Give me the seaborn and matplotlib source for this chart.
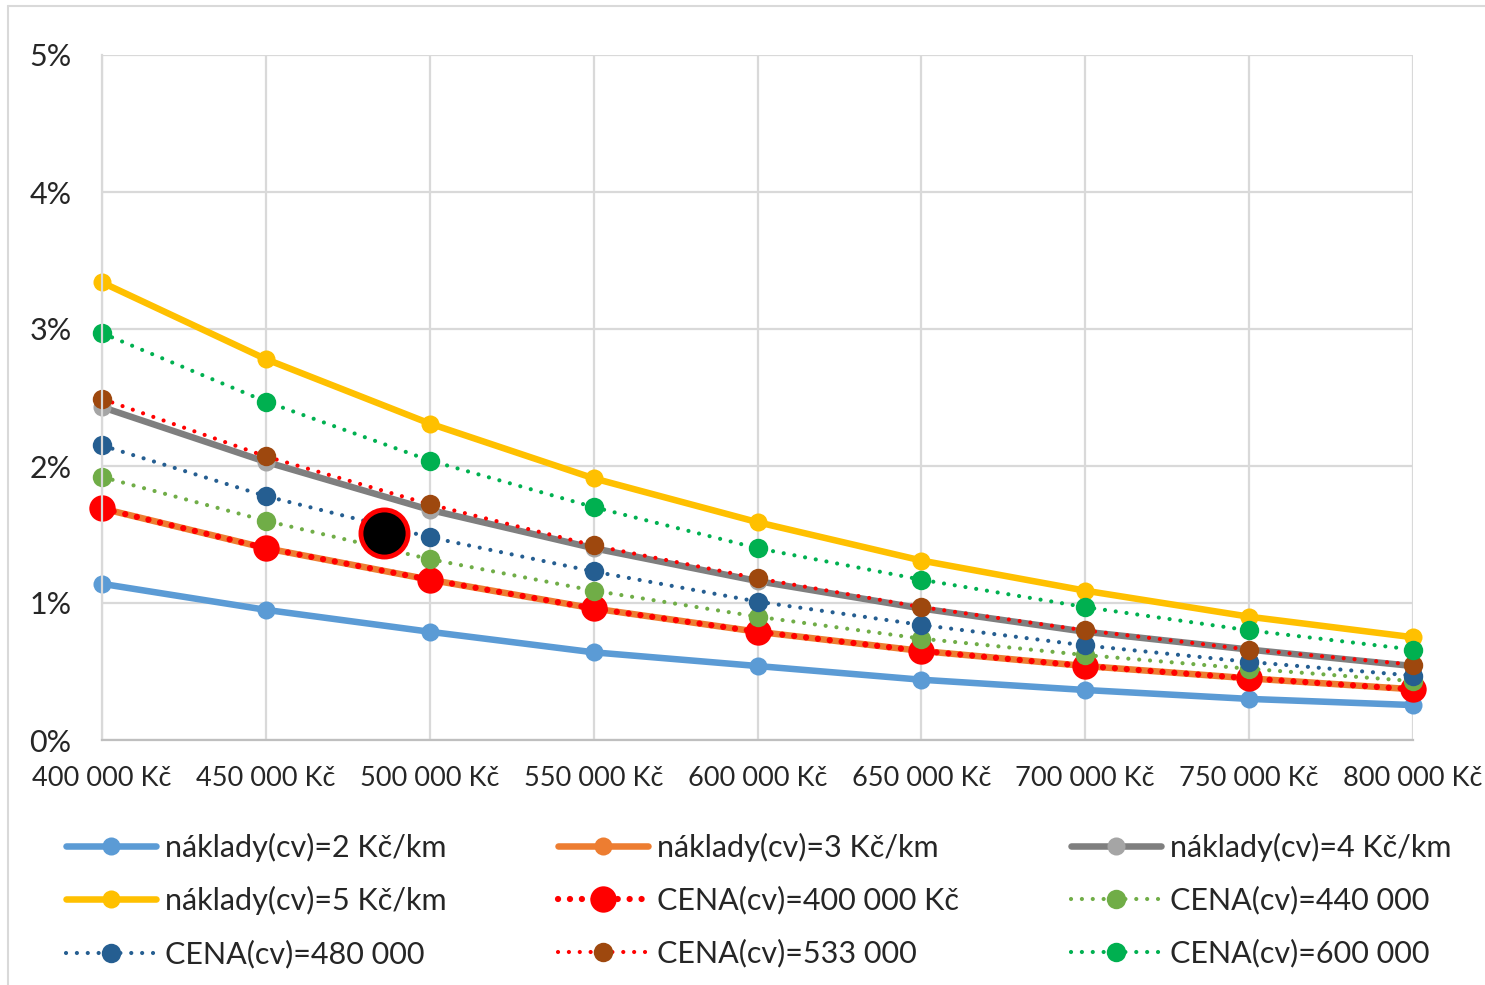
import matplotlib
matplotlib.use("Agg")
import matplotlib.pyplot as plt
import seaborn as sns
import pandas as pd
from matplotlib.ticker import FuncFormatter, MultipleLocator
from matplotlib.lines import Line2D

# Vehicle purchase price (x axis)
prices = [400000, 450000, 500000, 550000, 600000, 650000, 700000, 750000, 800000]

# Share in percent for each variant
costs_2 = [1.14, 0.95, 0.79, 0.64, 0.54, 0.44, 0.365, 0.30, 0.255]
costs_3 = [1.69, 1.40, 1.17, 0.96, 0.79, 0.65, 0.54, 0.45, 0.37]
costs_4 = [2.43, 2.03, 1.68, 1.40, 1.16, 0.96, 0.79, 0.66, 0.54]
costs_5 = [3.34, 2.78, 2.31, 1.91, 1.59, 1.31, 1.09, 0.90, 0.75]
price_400 = [1.69, 1.40, 1.17, 0.96, 0.79, 0.65, 0.54, 0.45, 0.37]
price_440 = [1.92, 1.60, 1.32, 1.09, 0.90, 0.74, 0.62, 0.52, 0.43]
price_480 = [2.15, 1.78, 1.48, 1.23, 1.01, 0.84, 0.69, 0.57, 0.47]
price_533 = [2.49, 2.07, 1.72, 1.42, 1.18, 0.97, 0.80, 0.66, 0.55]
price_600 = [2.97, 2.47, 2.04, 1.70, 1.40, 1.17, 0.97, 0.80, 0.66]

labels = [
    "náklady(cv)=2 Kč/km", "náklady(cv)=3 Kč/km", "náklady(cv)=4 Kč/km",
    "náklady(cv)=5 Kč/km", "CENA(cv)=400 000 Kč", "CENA(cv)=440 000",
    "CENA(cv)=480 000", "CENA(cv)=533 000", "CENA(cv)=600 000",
]

# Highlighted point
point_x = [486000]
point_y = [1.51]

solid = "-"
dots = (0, (0.01, 2.6))
big_dots = (0, (0.01, 1.9))

# (values, line colour, marker colour, linestyle, line width, marker size)
styles = [
    (costs_2, "#5B9BD5", "#5B9BD5", solid, 4.7, 13),
    (costs_3, "#ED7D31", "#ED7D31", solid, 4.7, 13),
    (costs_4, "#7F7F7F", "#A5A5A5", solid, 4.7, 13),
    (costs_5, "#FFC000", "#FFC000", solid, 4.7, 13),
    (price_400, "#FF0000", "#FF0000", big_dots, 4.5, 19),
    (price_440, "#70AD47", "#70AD47", dots, 3.0, 14),
    (price_480, "#255E91", "#255E91", dots, 3.0, 14),
    (price_533, "#FF0000", "#9E480E", dots, 3.0, 14),
    (price_600, "#00B050", "#00B050", dots, 3.0, 14),
]

sns.set_theme(style="whitegrid")
plt.rcParams["font.family"] = ["Lato", "DejaVu Sans"]

fig = plt.figure(figsize=(14.85, 9.85), dpi=100)
ax = fig.add_axes([102 / 1485, 1 - 740 / 985, (1413 - 102) / 1485, (740 - 55) / 985])

for (vals, lc, mc, ls, lw, ms), lab in zip(styles, labels):
    df = pd.DataFrame({"price": prices, "share": vals})
    sns.lineplot(
        data=df, x="price", y="share", ax=ax, label=lab,
        color=lc, linestyle=ls, linewidth=lw, marker="o",
        markersize=ms, markerfacecolor=mc, markeredgecolor=mc,
        markeredgewidth=0, dash_capstyle="round", clip_on=False,
    )

handles, _ = ax.get_legend_handles_labels()
if ax.get_legend() is not None:
    ax.get_legend().remove()

sns.scatterplot(
    x=point_x, y=point_y, ax=ax, s=1150, color="black",
    edgecolor="#FF0000", linewidth=3.5, zorder=10, clip_on=False, legend=False,
)

ax.set_xlim(400000, 800000)
ax.set_ylim(0, 5)
ax.xaxis.set_major_locator(MultipleLocator(50000))
ax.yaxis.set_major_locator(MultipleLocator(1))
ax.xaxis.set_major_formatter(
    FuncFormatter(lambda v, _: f"{v:,.0f}".replace(",", " ") + " Kč"))
ax.yaxis.set_major_formatter(FuncFormatter(lambda v, _: f"{v:.0f}%"))
ax.set_xlabel("")
ax.set_ylabel("")
ax.grid(True, color="#D9D9D9", linewidth=1.6)
ax.tick_params(axis="x", length=0, pad=19, labelsize=19.5, colors="#262626")
ax.tick_params(axis="y", length=0, pad=22, labelsize=22, colors="#262626")
for side in ("top", "right"):
    ax.spines[side].set_visible(False)
ax.spines["left"].set_color("#D9D9D9")
ax.spines["left"].set_linewidth(1.6)
ax.spines["bottom"].set_color("#BFBFBF")
ax.spines["bottom"].set_linewidth(1.6)

# Legend: matplotlib fills columns first, so reorder for row-wise reading
order = [0, 3, 6, 1, 4, 7, 2, 5, 8]
fig.legend(
    [handles[i] for i in order], [labels[i] for i in order],
    ncol=3, loc="upper left", bbox_to_anchor=(38 / 1485, 1 - 805 / 985),
    frameon=False, fontsize=22, handlelength=2.95, handletextpad=0.3,
    columnspacing=3.65, labelspacing=0.8, numpoints=1,
    labelcolor="#262626",
)

# Thin outer frame along the top and left edges
fig.add_artist(Line2D([8 / 1485, 8 / 1485], [0, 1 - 6 / 985],
                      transform=fig.transFigure, color="#D9D9D9", lw=1.5))
fig.add_artist(Line2D([8 / 1485, 1], [1 - 6 / 985, 1 - 6 / 985],
                      transform=fig.transFigure, color="#D9D9D9", lw=1.5))

fig.savefig("out.png", dpi=100, facecolor="white")
